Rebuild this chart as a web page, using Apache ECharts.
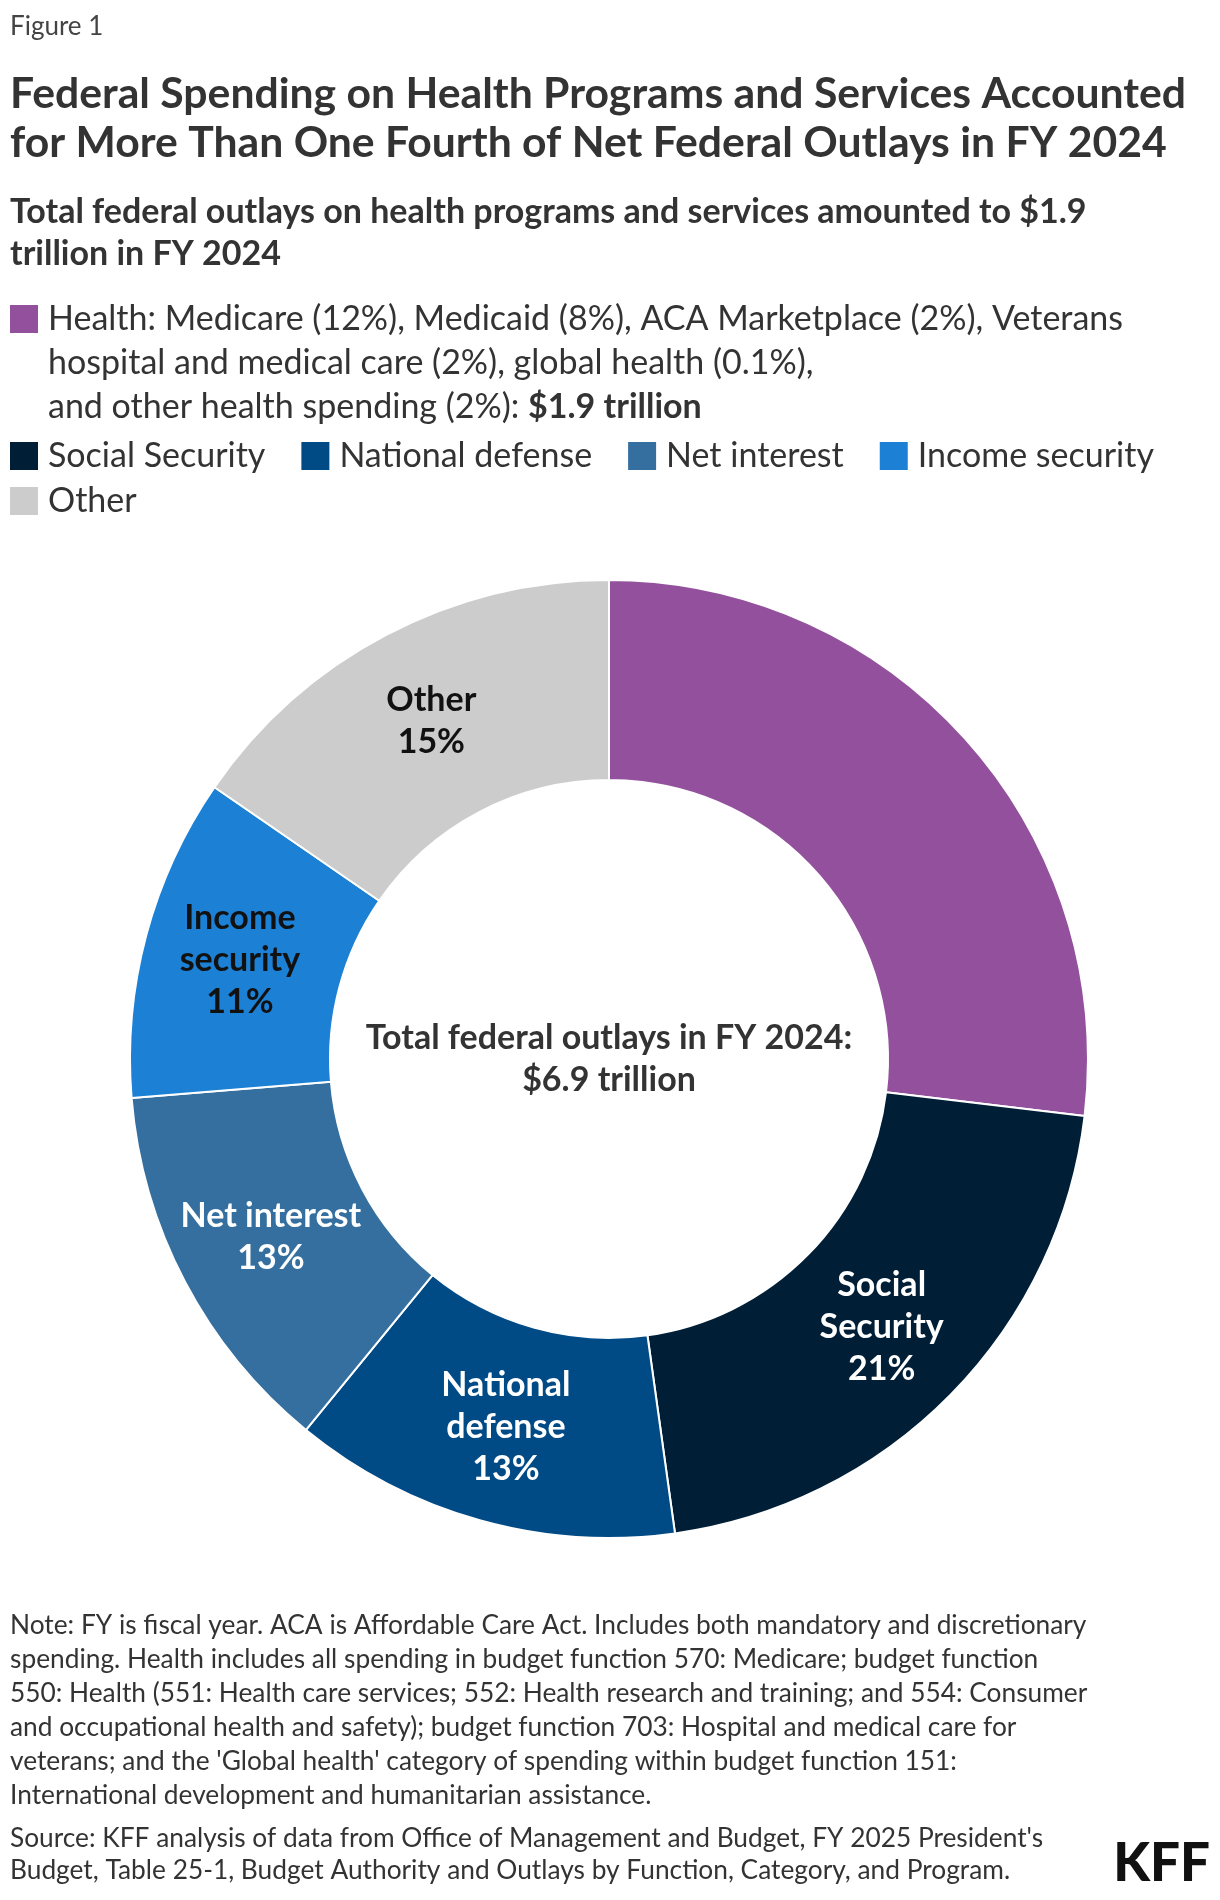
<!DOCTYPE html>
<html>
<head>
<meta charset="utf-8">
<script src="https://cdn.jsdelivr.net/npm/echarts@6/dist/echarts.min.js"></script>
<style>
  html, body { margin: 0; background: #fff; }
  #chart { width: 1220px; height: 1900px; }
</style>
</head>
<body>
<div id="chart"></div>
<script>
// budget shares of FY 2024 outlays (percent)
let categories = ['Health', 'Social Security', 'National defense', 'Net interest', 'Income security', 'Other']
let shares = [26.9, 20.9, 13.1, 12.8, 10.9, 15.4]
let sliceLabels = ['', 'Social\nSecurity', 'National\ndefense', 'Net interest', 'Income\nsecurity', 'Other']

let colors = ['#93519d', '#001f37', '#004a86', '#346f9f', '#1c80d4', '#cccccc']
let labelColors = ['#fff', '#fff', '#fff', '#fff', '#111', '#111']

let titleLines = [
    'Federal Spending on Health Programs and Services Accounted',
    'for More Than One Fourth of Net Federal Outlays in FY 2024'
]
let subtitleLines = [
    'Total federal outlays on health programs and services amounted to $1.9',
    'trillion in FY 2024'
]
let healthLegend = [
    'Health: Medicare (12%), Medicaid (8%), ACA Marketplace (2%), Veterans',
    'hospital and medical care (2%), global health (0.1%),',
    'and other health spending (2%): '
]
let healthTotal = '$1.9 trillion'
let centerLines = ['Total federal outlays in FY 2024:', '$6.9 trillion']
let noteLines = [
    'Note: FY is fiscal year. ACA is Affordable Care Act. Includes both mandatory and discretionary',
    'spending. Health includes all spending in budget function 570: Medicare; budget function',
    '550: Health (551: Health care services; 552: Health research and training; and 554: Consumer',
    'and occupational health and safety); budget function 703: Hospital and medical care for',
    'veterans; and the \'Global health\' category of spending within budget function 151:',
    'International development and humanitarian assistance.'
]
let sourceLines = [
    'Source: KFF analysis of data from Office of Management and Budget, FY 2025 President\'s',
    'Budget, Table 25-1, Budget Authority and Outlays by Function, Category, and Program.'
]

let font = 'Lato, "Noto Sans", sans-serif'
let pieCenter = [609, 1059]

let chart = echarts.init(document.getElementById('chart'))

let option = {
    animation: false,
    color: colors,
    textStyle: {fontFamily: font},
    title: [
        {
            text: 'Figure 1', left: 10, top: 12, padding: 0,
            textStyle: {fontSize: 26, fontWeight: 'normal', color: '#444', lineHeight: 30, fontFamily: font}
        },
        {
            text: titleLines.join('\n'), left: 10, top: 70, padding: 0,
            textStyle: {fontSize: 42.7, fontWeight: 'bold', color: '#333', lineHeight: 49, fontFamily: font}
        },
        {
            text: subtitleLines.join('\n'), left: 10, top: 191, padding: 0,
            textStyle: {fontSize: 34, fontWeight: 'bold', color: '#333', lineHeight: 42, fontFamily: font}
        }
    ],
    legend: [
        {
            data: [categories[0]],
            left: 10, top: 209, padding: 0,
            icon: 'rect', itemWidth: 28, itemHeight: 28,
            selectedMode: false,
            itemStyle: {borderWidth: 0},
            formatter: function () {
                return healthLegend.map(function (line, i) {
                    let s = '{a|' + line + '}'
                    if (i === healthLegend.length - 1) s += '{b|' + healthTotal + '}'
                    return s
                }).join('\n')
            },
            textStyle: {
                fontSize: 34, color: '#333', lineHeight: 44, padding: [88, 0, 0, 5],
                rich: {
                    a: {fontSize: 34, lineHeight: 44, color: '#333', fontFamily: font},
                    b: {fontSize: 34, lineHeight: 44, color: '#333', fontWeight: 'bold', fontFamily: font}
                }
            }
        },
        {
            data: categories.slice(1),
            left: 10, top: 439, width: 1205, padding: 0,
            icon: 'rect', itemWidth: 28, itemHeight: 28, itemGap: 11,
            selectedMode: false,
            itemStyle: {borderWidth: 0},
            textStyle: {fontSize: 34, color: '#333', lineHeight: 28, padding: [0, 25, 0, 5], fontFamily: font}
        }
    ],
    graphic: [
        {
            type: 'text', x: pieCenter[0], y: pieCenter[1],
            style: {
                text: centerLines.join('\n'), align: 'center', verticalAlign: 'middle',
                fontSize: 34, fontWeight: 'bold', lineHeight: 42, fill: '#333', fontFamily: font
            }
        },
        {
            type: 'text', left: 10, top: 1609,
            style: {text: noteLines.join('\n'), fontSize: 26.3, lineHeight: 34, fill: '#333', fontFamily: font}
        },
        {
            type: 'text', left: 10, top: 1822,
            style: {text: sourceLines.join('\n'), fontSize: 26.3, lineHeight: 32.5, fill: '#333', fontFamily: font}
        },
        {
            type: 'text', right: 10, top: 1837,
            style: {text: 'KFF', fontSize: 53, fontWeight: 900, fill: '#111', fontFamily: font}
        }
    ],
    series: [
        {
            type: 'pie',
            center: pieCenter,
            radius: [279, 479],
            startAngle: 90,
            clockwise: true,
            itemStyle: {borderColor: '#fff', borderWidth: 2},
            label: {
                position: 'inside',
                formatter: function (p) {
                    return sliceLabels[p.dataIndex] + '\n' + Math.round(p.percent) + '%'
                },
                fontSize: 34, fontWeight: 'bold', lineHeight: 42, fontFamily: font
            },
            labelLine: {show: false},
            emphasis: {disabled: true},
            data: categories.map(function (name, i) {
                return {
                    name: name,
                    value: shares[i],
                    label: {show: i > 0, color: labelColors[i]}
                }
            })
        }
    ]
}

chart.setOption(option)
</script>
</body>
</html>
